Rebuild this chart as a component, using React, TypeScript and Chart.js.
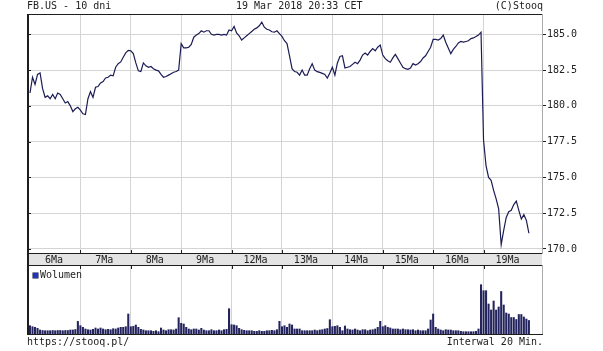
import React, { useEffect, useRef } from "react";
import { Chart, registerables } from "chart.js";

Chart.register(...registerables);

const dayLabels = ["6Ma", "7Ma", "8Ma", "9Ma", "12Ma", "13Ma", "14Ma", "15Ma", "16Ma", "19Ma"];
const priceTicks = [170, 172.5, 175, 177.5, 180, 182.5, 185];

const prices = [
  // 6 Mar
  180.9, 182.0, 181.5, 182.2, 182.3, 181.2, 180.6, 180.7, 180.5, 180.8,
  180.5, 180.9, 180.8, 180.5, 180.2, 180.3, 180.0, 179.6, 179.8, 179.9,
  // 7 Mar
  179.7, 179.45, 179.4, 180.5, 181.0, 180.6, 181.3, 181.35, 181.6, 181.7,
  181.95, 182.0, 182.15, 182.1, 182.7, 182.95, 183.07, 183.4, 183.7, 183.88,
  // 8 Mar
  183.85, 183.65, 183.0, 182.45, 182.4, 183.0, 182.8, 182.7, 182.75, 182.6,
  182.5, 182.45, 182.2, 182.0, 182.05, 182.15, 182.25, 182.35, 182.4, 182.5,
  // 9 Mar
  184.35, 184.05, 184.05, 184.1, 184.3, 184.8, 184.95, 185.05, 185.25, 185.15,
  185.25, 185.25, 185.0, 184.95, 185.0, 185.0, 184.95, 185.0, 184.95, 185.3,
  // 12 Mar
  185.25, 185.55, 185.1, 184.9, 184.6, 184.75, 184.9, 185.05, 185.2, 185.35,
  185.45, 185.6, 185.85, 185.5, 185.35, 185.3, 185.18, 185.15, 185.25, 185.05,
  // 13 Mar
  184.85, 184.55, 184.35, 183.5, 182.6, 182.4, 182.35, 182.15, 182.5, 182.15,
  182.15, 182.6, 182.95, 182.5, 182.39, 182.34, 182.27, 182.2, 181.95, 182.3,
  // 14 Mar
  182.7, 182.15, 183.0, 183.45, 183.5, 182.65, 182.7, 182.75, 182.9, 183.05,
  182.95, 183.2, 183.55, 183.7, 183.55, 183.8, 184.0, 183.85, 184.1, 184.25,
  // 15 Mar
  183.55, 183.3, 183.15, 183.05, 183.35, 183.6, 183.3, 183.0, 182.7, 182.6,
  182.55, 182.65, 182.95, 182.85, 182.95, 183.1, 183.35, 183.5, 183.8, 184.1,
  // 16 Mar
  184.65, 184.65, 184.6, 184.7, 184.95, 184.45, 184.05, 183.65, 183.95, 184.15,
  184.4, 184.5, 184.45, 184.5, 184.55, 184.7, 184.75, 184.85, 184.95, 185.15,
  // 19 Mar
  177.6, 175.8, 175.0, 174.8, 174.1, 173.5, 172.8, 170.3, 171.3, 172.2,
  172.6, 172.7, 173.1, 173.35, 172.7, 172.1, 172.4, 172.0, 171.1,
];

// volume per 20-minute bar, thousands of shares
const volumes = [
  1660, 1460, 1340, 1140, 800, 700, 660, 660, 660, 700, 660, 700, 700, 660, 700, 700, 800, 800, 900, 2520,
  1660, 1340, 1000, 860, 800, 940, 1200, 1000, 1200, 1000, 860, 940, 860, 1060, 1000, 1200, 1340, 1340, 1460, 4000,
  1460, 1540, 1800, 1340, 940, 800, 660, 660, 660, 540, 660, 460, 1200, 800, 660, 860, 860, 800, 1000, 3260,
  2140, 2000, 1340, 1000, 860, 1000, 1000, 800, 1140, 800, 660, 660, 860, 660, 660, 800, 660, 860, 940, 5060,
  1860, 1800, 1660, 1140, 860, 740, 660, 660, 660, 540, 540, 660, 540, 540, 660, 660, 740, 660, 860, 2540,
  1460, 1660, 1340, 2000, 1800, 1000, 1000, 1000, 660, 660, 660, 660, 660, 800, 660, 800, 860, 1000, 1100, 2860,
  1460, 1540, 1660, 1340, 660, 1600, 1000, 860, 800, 1000, 800, 660, 860, 860, 660, 800, 860, 1000, 1340, 2540,
  1460, 1660, 1340, 1200, 1000, 1000, 1000, 860, 1000, 860, 860, 800, 860, 660, 800, 660, 660, 660, 1000, 2800,
  4000, 1340, 1000, 800, 660, 860, 800, 800, 660, 660, 660, 540, 460, 460, 460, 460, 460, 540, 1000, 9860,
  8660, 8660, 6000, 4800, 6600, 4800, 5400, 8500, 5800, 4200, 4000, 3300, 3300, 2900, 3900, 3900, 3400, 3000, 2700,
];

const POINTS_PER_DAY = 20;
const dayBoundaries = dayLabels.slice(1).map((_, k) => (k + 1) * POINTS_PER_DAY);
const dayCenters = dayLabels.map((_, k) => k * POINTS_PER_DAY + 9.5);

const X_MIN = -1.19;
const X_MAX = 203.2;
const Y_MIN = 169.72;
const Y_MAX = 186.42;
const VOL_MAX = 13600;

const FONT = { family: "'DejaVu Sans Mono', monospace", size: 10 };
const TEXT = "#222";
const GRID = "#d4d4d4";
const DARK = "#1e1e1e";
const LINE = "#1c1c55";

const priceFrame = {
  id: "priceFrame",
  beforeDraw(chart: any) {
    const { ctx, chartArea } = chart;
    ctx.save();
    ctx.fillStyle = "#e4e4e4";
    ctx.fillRect(chartArea.left, chartArea.bottom, chartArea.right - chartArea.left, 12);
    ctx.restore();
  },
  afterDraw(chart: any) {
    const { ctx, chartArea } = chart;
    const { left, right, top, bottom } = chartArea;
    ctx.save();
    ctx.fillStyle = DARK;
    ctx.fillRect(left, top, right - left, 1);
    ctx.fillRect(left, top, 2, bottom + 13 - top);
    ctx.fillRect(left, bottom, right - left, 1);
    ctx.fillRect(left, bottom + 12, right - left, 1);
    const xs = chart.scales.x;
    dayBoundaries.forEach((v) => {
      const px = Math.round(xs.getPixelForValue(v));
      ctx.fillRect(px, bottom - 3, 1, 3);
    });
    const ys = chart.scales.y;
    priceTicks.forEach((v) => {
      const py = Math.round(ys.getPixelForValue(v));
      ctx.fillRect(left, py, 4, 1);
    });
    ctx.restore();
  },
};

const volFrame = {
  id: "volFrame",
  afterDraw(chart: any) {
    const { ctx, chartArea } = chart;
    const { left, right, bottom } = chartArea;
    ctx.save();
    ctx.fillStyle = "#aaaaaa";
    ctx.fillRect(right, 0, 1, bottom);
    ctx.fillStyle = DARK;
    ctx.fillRect(left, 0, 2, bottom + 1);
    ctx.fillRect(left, bottom, right - left + 1, 1);
    const xs = chart.scales.x;
    dayBoundaries.forEach((v) => {
      const px = Math.round(xs.getPixelForValue(v));
      ctx.fillRect(px, 1, 1, 3);
    });
    ctx.restore();
  },
};

export default function App() {
  const priceRef = useRef<HTMLCanvasElement | null>(null);
  const volRef = useRef<HTMLCanvasElement | null>(null);

  useEffect(() => {
    const priceChart = new Chart(priceRef.current as HTMLCanvasElement, {
      type: "line",
      data: {
        datasets: [
          {
            data: prices.map((p, i) => ({ x: i, y: p })),
            borderColor: LINE,
            borderWidth: 1.2,
            pointRadius: 0,
            tension: 0,
            fill: false,
          },
        ],
      },
      options: {
        animation: false,
        responsive: false,
        maintainAspectRatio: false,
        events: [],
        layout: { padding: { left: 27, top: 14, right: 0, bottom: 1 } },
        plugins: { legend: { display: false }, tooltip: { enabled: false } },
        scales: {
          x: {
            type: "linear",
            position: "bottom",
            min: X_MIN,
            max: X_MAX,
            afterBuildTicks: (s: any) => {
              s.ticks = dayBoundaries.map((v) => ({ value: v }));
            },
            afterFit: (s: any) => {
              s.height = 0;
            },
            ticks: { display: false },
            grid: { color: GRID, drawTicks: false },
            border: { display: false },
          },
          xl: {
            type: "linear",
            position: "bottom",
            min: X_MIN,
            max: X_MAX,
            afterBuildTicks: (s: any) => {
              s.ticks = dayCenters.map((v) => ({ value: v }));
            },
            afterFit: (s: any) => {
              s.height = 12;
            },
            ticks: {
              autoSkip: false,
              maxRotation: 0,
              minRotation: 0,
              padding: 1,
              font: FONT,
              color: TEXT,
              callback: (_v: any, idx: number) => dayLabels[idx],
            },
            grid: { display: false, drawTicks: false, tickLength: 0 },
            border: { display: false },
          },
          y: {
            type: "linear",
            position: "right",
            min: Y_MIN,
            max: Y_MAX,
            afterBuildTicks: (s: any) => {
              s.ticks = priceTicks.map((v) => ({ value: v }));
            },
            afterFit: (s: any) => {
              s.width = 61;
            },
            ticks: {
              padding: 1,
              font: FONT,
              color: TEXT,
              callback: (v: any) => Number(v).toFixed(1),
            },
            grid: { color: GRID, tickColor: DARK, tickLength: 4, drawTicks: true },
            border: { display: true, color: "#aaaaaa" },
          },
        },
      },
      plugins: [priceFrame],
    } as any);

    const volChart = new Chart(volRef.current as HTMLCanvasElement, {
      type: "bar",
      data: {
        datasets: [
          {
            data: volumes.map((v, i) => ({ x: i, y: v })),
            backgroundColor: "#23235e",
            barThickness: 1.4,
            borderWidth: 0,
          },
        ],
      },
      options: {
        animation: false,
        responsive: false,
        maintainAspectRatio: false,
        events: [],
        layout: { padding: { left: 27, top: 1, right: 61, bottom: 17 } },
        plugins: { legend: { display: false }, tooltip: { enabled: false } },
        scales: {
          x: {
            type: "linear",
            position: "bottom",
            min: X_MIN,
            max: X_MAX,
            offset: false,
            afterBuildTicks: (s: any) => {
              s.ticks = dayBoundaries.map((v) => ({ value: v }));
            },
            afterFit: (s: any) => {
              s.height = 0;
            },
            ticks: { display: false },
            grid: { color: GRID, drawTicks: false, offset: false },
            border: { display: false },
          },
          y: { display: false, min: 0, max: VOL_MAX },
        },
      },
      plugins: [volFrame],
    } as any);

    return () => {
      priceChart.destroy();
      volChart.destroy();
    };
  }, []);

  const text: React.CSSProperties = {
    position: "absolute",
    fontFamily: "'DejaVu Sans Mono', monospace",
    fontSize: 10,
    lineHeight: "10px",
    color: TEXT,
    whiteSpace: "pre",
  };

  return (
    <div style={{ position: "fixed", left: 0, top: 0, width: 603, height: 351, background: "#fff", overflow: "hidden" }}>
      <canvas ref={priceRef} width={603} height={266} style={{ position: "absolute", left: 0, top: 0, width: 603, height: 266 }} />
      <canvas ref={volRef} width={603} height={86} style={{ position: "absolute", left: 0, top: 265, width: 603, height: 86 }} />
      <div style={{ ...text, left: 27, top: 1 }}>FB.US - 10 dni</div>
      <div style={{ ...text, left: 236, top: 1 }}>19 Mar 2018 20:33 CET</div>
      <div style={{ ...text, right: 60, top: 1 }}>(C)Stooq</div>
      <div style={{ position: "absolute", left: 33, top: 273, width: 5, height: 5, background: "#2233bb", boxShadow: "0 0 0 0.5px #111144" }} />
      <div style={{ ...text, left: 40, top: 270 }}>Wolumen</div>
      <div style={{ ...text, left: 27, top: 337 }}>https://stooq.pl/</div>
      <div style={{ ...text, right: 60, top: 337 }}>Interwal 20 Min.</div>
    </div>
  );
}
